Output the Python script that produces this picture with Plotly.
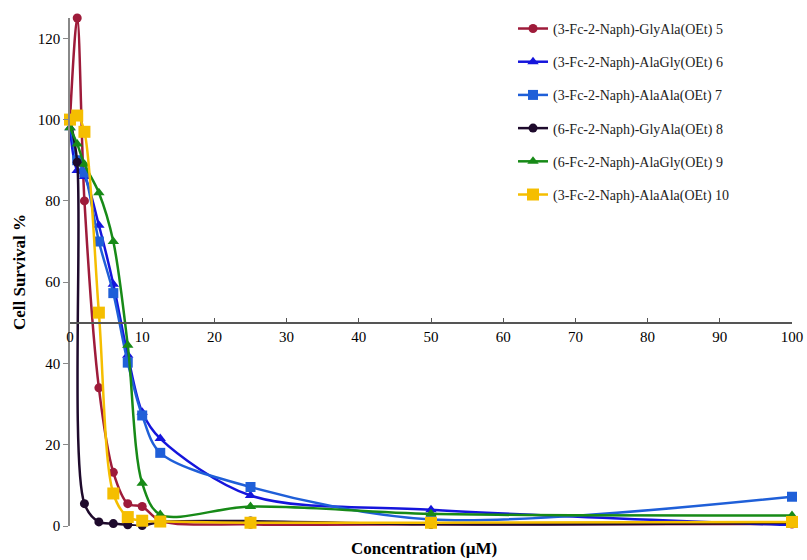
import plotly.graph_objects as go

conc = [0, 1, 2, 4, 6, 8, 10, 12.5, 25, 50, 100]

names = [
    "(3-Fc-2-Naph)-GlyAla(OEt) 5",
    "(3-Fc-2-Naph)-AlaGly(OEt) 6",
    "(3-Fc-2-Naph)-AlaAla(OEt) 7",
    "(6-Fc-2-Naph)-GlyAla(OEt) 8",
    "(6-Fc-2-Naph)-AlaGly(OEt) 9",
    "(3-Fc-2-Naph)-AlaAla(OEt) 10",
]

s5 = [100, 125, 80, 34, 13.2, 5.5, 4.8, 1.3, 0.4, 0.4, 0.5]
s6 = [98, 87.5, 86, 74, 59.5, 42, 28, 21.5, 7.5, 4.0, 0.2]
s7 = [100, 90, 87, 70, 57.3, 40.2, 27.2, 18, 9.6, 1.6, 7.2]
s8 = [100, 89.5, 5.5, 1.0, 0.6, 0.3, 0.1, 1.0, 1.2, 0.4, 0.8]
s9 = [98, 94, 89, 82, 70, 44.5, 10.5, 2.8, 4.8, 3.0, 2.6]
s10 = [100, 101, 97, 52.5, 8, 2.2, 1.3, 1.1, 0.8, 0.8, 1.0]

series = [s5, s6, s7, s8, s9, s10]
colors = ["#9E1B3A", "#1515DC", "#1F5FD8", "#1E0A2C", "#178A17", "#F5BE00"]
symbols = ["circle", "triangle-up", "square", "circle", "triangle-up", "square"]
msizes = [9, 10, 10, 9, 10, 12]

yticks = [0, 20, 40, 60, 80, 100, 120]
xticks = [0, 10, 20, 30, 40, 50, 60, 70, 80, 90, 100]

SERIF = "Liberation Serif"

fig = go.Figure()
for i, (nm, ys) in enumerate(zip(names, series)):
    fig.add_trace(go.Scatter(
        x=conc, y=ys, name=nm, mode="lines+markers",
        line=dict(color=colors[i], width=2.5, shape="spline", smoothing=0.9),
        marker=dict(symbol=symbols[i], size=msizes[i], color=colors[i]),
        cliponaxis=False, legendgroup=f"g{i}",
    ))

fig.update_layout(
    width=807, height=560,
    margin=dict(l=70, r=15, t=18, b=34, autoexpand=False),
    paper_bgcolor="white", plot_bgcolor="white",
    font=dict(family=SERIF, size=15, color="black"),
    showlegend=True,
    legend=dict(
        x=0.6136, y=1.01, xanchor="left", yanchor="top",
        font=dict(family=SERIF, size=14, color="#222"),
        bgcolor="rgba(0,0,0,0)", tracegroupgap=12,
    ),
    xaxis=dict(
        range=[0, 100], anchor="free", position=0.4, automargin=False,
        showline=True, linecolor="#555", linewidth=1.5,
        ticks="inside", ticklen=4, tickcolor="#555",
        tickvals=xticks, ticktext=[str(v) for v in xticks],
        showgrid=False, zeroline=False,
        tickfont=dict(family=SERIF, size=15, color="black"),
    ),
    yaxis=dict(
        range=[0, 125], automargin=False,
        showline=True, linecolor="#888", linewidth=1.5,
        ticks="outside", ticklen=5, tickcolor="#888",
        tickvals=yticks, showgrid=False, zeroline=False,
        tickfont=dict(family=SERIF, size=15, color="black"),
        title=dict(text="<b>Cell Survival %</b>", font=dict(family=SERIF, size=17, color="black"), standoff=8),
    ),
    annotations=[dict(
        text="<b>Concentration (µM)</b>", xref="paper", yref="paper",
        x=0.49, y=-0.045, xanchor="center", yanchor="middle", showarrow=False,
        font=dict(family=SERIF, size=17, color="black"),
    )],
)

fig.write_html(
    "out.html",
    config={"displayModeBar": False},
    post_script="document.body.style.margin='0';document.body.style.overflow='hidden';",
)
